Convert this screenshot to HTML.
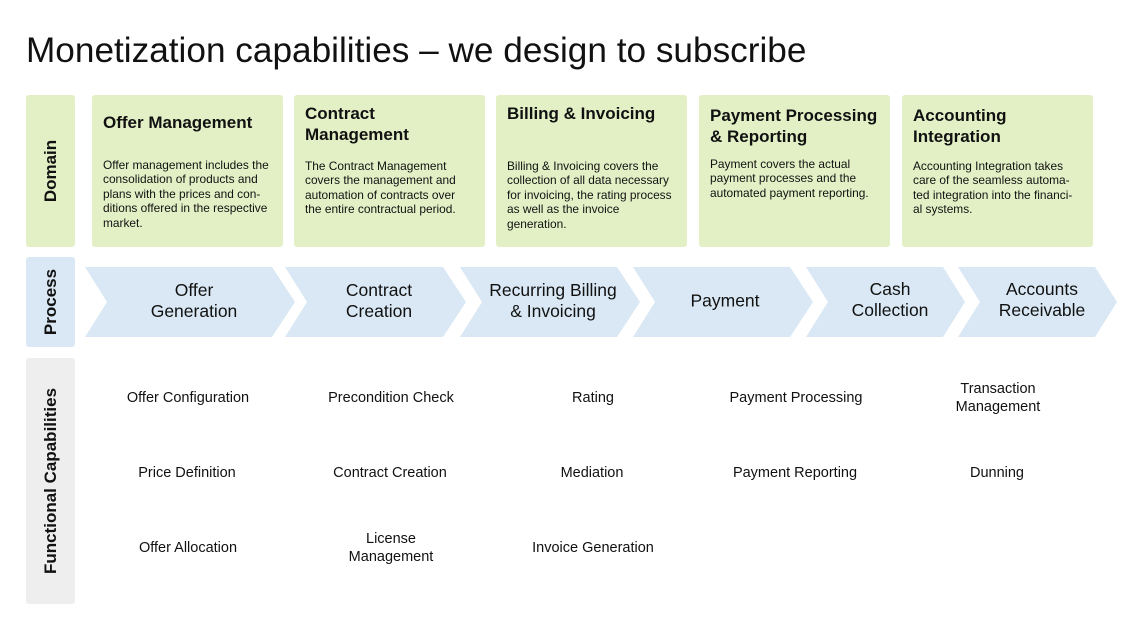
<!DOCTYPE html>
<html><head><meta charset="utf-8"><style>
*{margin:0;padding:0;box-sizing:border-box}
body{width:1140px;height:642px;background:#fff;font-family:"Liberation Sans",sans-serif;color:#111;position:relative;overflow:hidden}
.a{position:absolute}
h1{position:absolute;left:26px;top:31px;font-size:35.2px;font-weight:400;letter-spacing:0;color:#111;white-space:nowrap}
.bar{position:absolute;left:26px;width:49px;border-radius:3px}
.bar span{position:absolute;left:50%;top:50%;transform:translate(-50%,-50%) rotate(-90deg);white-space:nowrap;font-weight:700;font-size:17px}
.dom{position:absolute;top:95px;width:191px;height:152px;background:#e3f0c6;border-radius:3px;padding:8px 11px}
.dom b{display:block;font-size:17px;line-height:21px;height:50px}
.dom p{font-size:11.9px;line-height:14.4px;white-space:nowrap}
.cap{position:absolute;width:190px;text-align:center;font-size:14.5px;line-height:18px;transform:translate(-50%,-50%)}
.pt{position:absolute;text-align:center;font-size:17.5px;line-height:21px;transform:translate(-50%,-50%);white-space:nowrap}
</style></head><body>
<h1>Monetization capabilities – we design to subscribe</h1>
<div class="bar" style="top:95px;height:152px;background:#e3f0c6"><span>Domain</span></div>
<div class="bar" style="top:257px;height:90px;background:#d9e8f4"><span>Process</span></div>
<div class="bar" style="top:358px;height:246px;background:#eeeeee"><span>Functional Capabilities</span></div>

<div class="dom" style="left:92px"><b style="padding-top:9px">Offer Management</b><p style="margin-top:5px">Offer management includes the<br>consolidation of products and<br>plans with the prices and con-<br>ditions offered in the respective<br>market.</p></div>
<div class="dom" style="left:294px"><b>Contract<br>Management</b><p style="margin-top:6px">The Contract Management<br>covers the management and<br>automation of contracts over<br>the entire contractual period.</p></div>
<div class="dom" style="left:496px"><b>Billing &amp; Invoicing</b><p style="margin-top:6px">Billing &amp; Invoicing covers the<br>collection of all data necessary<br>for invoicing, the rating process<br>as well as the invoice<br>generation.</p></div>
<div class="dom" style="left:699px"><b style="padding-top:2px">Payment Processing<br>&amp; Reporting</b><p style="margin-top:4px">Payment covers the actual<br>payment processes and the<br>automated payment reporting.</p></div>
<div class="dom" style="left:902px"><b style="padding-top:2px">Accounting<br>Integration</b><p style="margin-top:6px">Accounting Integration takes<br>care of the seamless automa-<br>ted integration into the financi-<br>al systems.</p></div>

<svg class="a" style="left:0;top:0" width="1140" height="642">
<g fill="#d9e8f4">
<polygon points="85,267 272,267 295,302 272,337 85,337 107,302"/>
<polygon points="285,267 443,267 466,302 443,337 285,337 307,302"/>
<polygon points="460,267 617,267 640,302 617,337 460,337 482,302"/>
<polygon points="633,267 790,267 813,302 790,337 633,337 655,302"/>
<polygon points="806,267 943,267 965,302 943,337 806,337 828,302"/>
<polygon points="958,267 1095,267 1117,302 1095,337 958,337 980,302"/>
</g></svg>
<div class="pt" style="left:194px;top:301px">Offer<br>Generation</div>
<div class="pt" style="left:379px;top:301px">Contract<br>Creation</div>
<div class="pt" style="left:553px;top:301px">Recurring Billing<br>&amp; Invoicing</div>
<div class="pt" style="left:725px;top:301px">Payment</div>
<div class="pt" style="left:890px;top:300px">Cash<br>Collection</div>
<div class="pt" style="left:1042px;top:300px">Accounts<br>Receivable</div>

<div class="cap" style="left:188px;top:398px">Offer Configuration</div>
<div class="cap" style="left:187px;top:473px">Price Definition</div>
<div class="cap" style="left:188px;top:548px">Offer Allocation</div>
<div class="cap" style="left:391px;top:398px">Precondition Check</div>
<div class="cap" style="left:390px;top:473px">Contract Creation</div>
<div class="cap" style="left:391px;top:548px">License<br>Management</div>
<div class="cap" style="left:593px;top:398px">Rating</div>
<div class="cap" style="left:592px;top:473px">Mediation</div>
<div class="cap" style="left:593px;top:548px">Invoice Generation</div>
<div class="cap" style="left:796px;top:398px">Payment Processing</div>
<div class="cap" style="left:795px;top:473px">Payment Reporting</div>
<div class="cap" style="left:998px;top:398px">Transaction<br>Management</div>
<div class="cap" style="left:997px;top:473px">Dunning</div>
</body></html>
